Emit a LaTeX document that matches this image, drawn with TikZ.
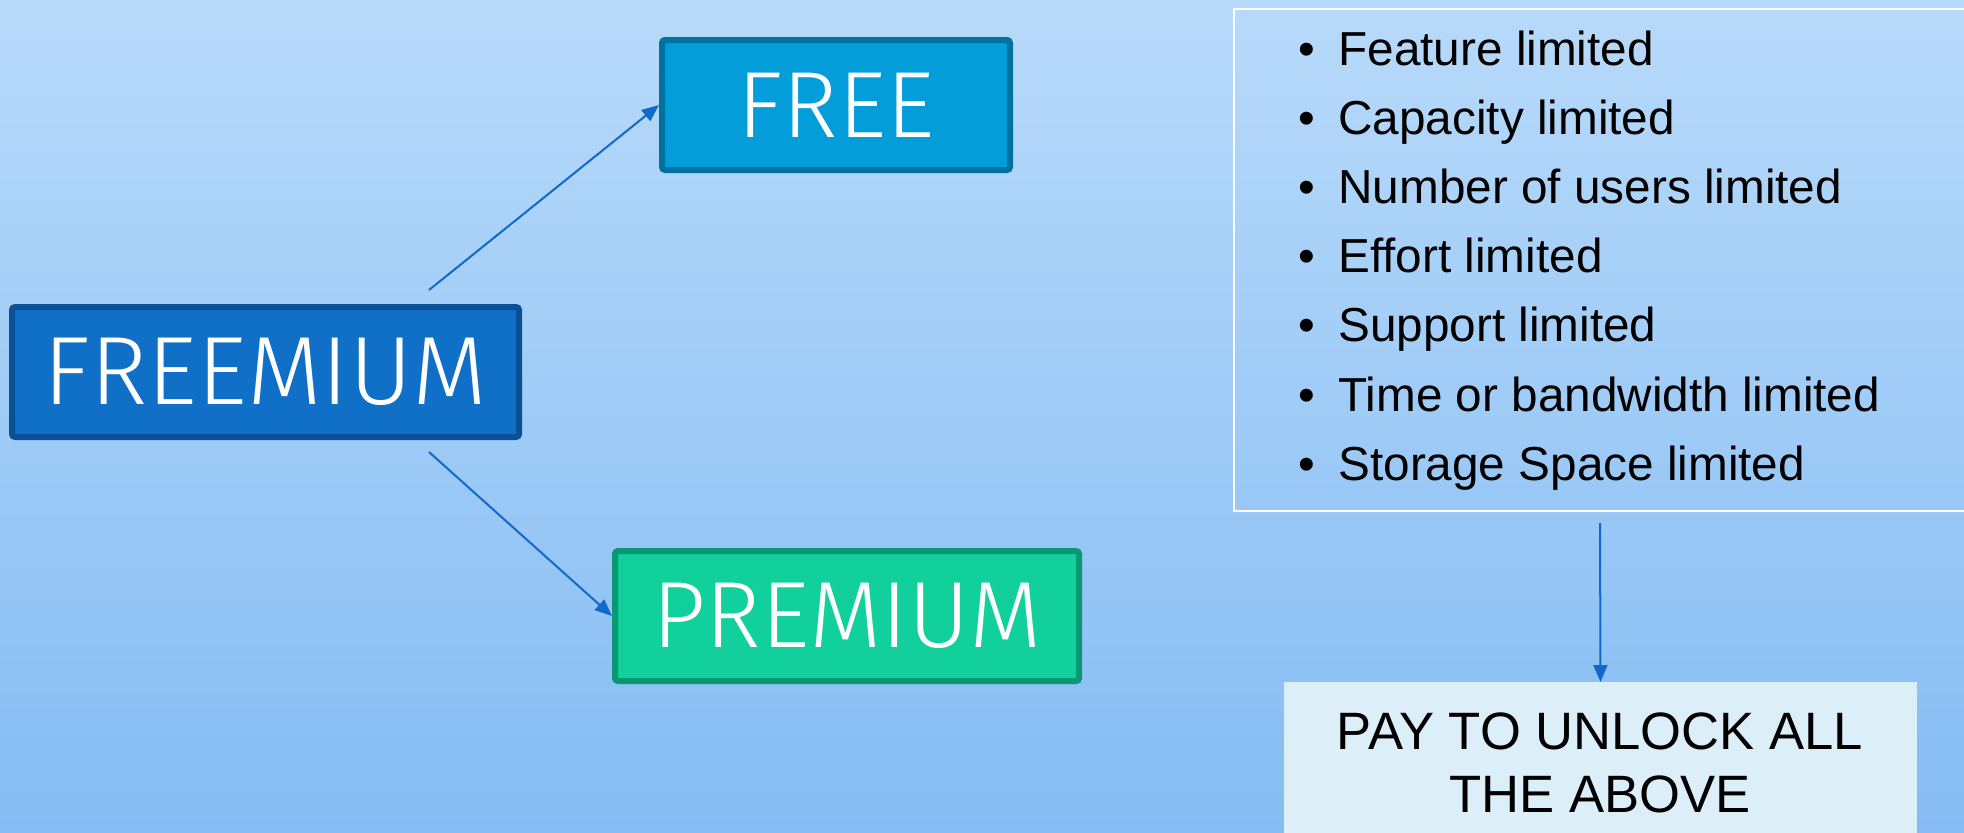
\documentclass[tikz,border=0pt]{standalone}
\usepackage{fontspec}
\setmainfont{Liberation Sans}
\newfontfamily\thinfont{Fira Sans Light}
\usetikzlibrary{arrows.meta}
\definecolor{bgtop}{HTML}{B8DAFA}
\definecolor{bgbot}{HTML}{85BCF3}
\definecolor{fmfill}{HTML}{106FC6}
\definecolor{fmline}{HTML}{0B4F94}
\definecolor{frfill}{HTML}{039DDA}
\definecolor{frline}{HTML}{01729F}
\definecolor{prfill}{HTML}{12D09B}
\definecolor{prline}{HTML}{0A9872}
\definecolor{payfill}{HTML}{DCEEF8}
\definecolor{arrowblue}{HTML}{1169C8}
\begin{document}
\begin{tikzpicture}[x=0.5pt,y=-0.5pt,
  box/.style={draw, line width=3pt, rounded corners=1.5pt, inner sep=0pt,
    minimum height=65pt, text=white},
  bigtxt/.style={font=\thinfont\fontsize{48.5}{50}\selectfont},
  midtxt/.style={font=\thinfont\fontsize{47}{48}\selectfont},
  conn/.style={draw=arrowblue, line width=1pt, -{Triangle[length=8.5pt,width=7pt]}},
  itemtxt/.style={anchor=base west, inner sep=0pt, font=\fontsize{23.85}{24}\selectfont},
  bul/.style={anchor=base, inner sep=0pt, font=\fontsize{23.85}{24}\selectfont},
  paytxt/.style={anchor=base, inner sep=0pt, font=\fontsize{26.3}{27}\selectfont}]
\useasboundingbox (0,0) rectangle (1964,832);
\clip (0,0) rectangle (1964,832);
\shade[top color=bgtop, bottom color=bgbot] (0,0) rectangle (1964,832);

\node[box, bigtxt, fill=fmfill, draw=fmline, minimum width=253.5pt] (freemium) at (265.5,372) {FREEMIUM};
\node[box, midtxt, fill=frfill, draw=frline, minimum width=174pt] (free) at (836,105) {FREE};
\node[box, midtxt, fill=prfill, draw=prline, minimum width=232pt] (premium) at (847,616) {PREMIUM};

\coordinate (s1) at (429,290);
\coordinate (s2) at (429,452);
\draw[conn] (s1) -- (free.west);
\draw[conn] (s2) -- (premium.west);

\node[draw=white, line width=1pt, inner sep=0pt, anchor=north west,
  minimum width=371pt, minimum height=251pt] (list) at (1233,8) {};

\foreach \t [count=\k from 0] in {Feature limited, Capacity limited, Number of users limited, Effort limited, Support limited, Time or bandwidth limited, Storage Space limited}{
  \node[bul] (b\k) at (1307, 65+69.2*\k) {\textbullet};
  \node[itemtxt] (i\k) at (1338, 65+69.2*\k) {\t};
}

\node[fill=payfill, inner sep=0pt, anchor=north, minimum width=316.5pt,
  minimum height=90pt] (pay) at (1600.5,682) {};
\node[paytxt] (pay1) at (1600,749) {PAY TO UNLOCK ALL};
\node[paytxt] (pay2) at (1600,812) {THE ABOVE};

\coordinate (s3) at (1600,523);
\draw[conn] (s3) -- (pay.north);
\end{tikzpicture}
\end{document}
